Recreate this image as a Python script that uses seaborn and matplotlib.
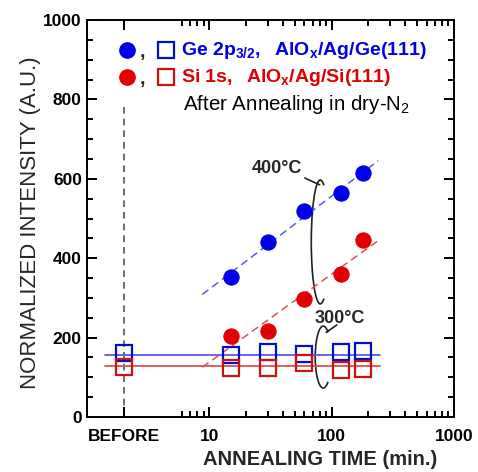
import numpy as np
import pandas as pd
import matplotlib
matplotlib.use("Agg")
import matplotlib.pyplot as plt
import matplotlib.transforms as mtransforms
import seaborn as sns
from matplotlib.patches import Arc
from matplotlib.lines import TICKUP, TICKDOWN, TICKLEFT, TICKRIGHT
from matplotlib.ticker import FixedLocator, NullFormatter

# ---------------- data ----------------
before_x = 2                      # position used for the "BEFORE" column
anneal_time = [15, 30, 60, 120, 180]

ge_400 = [353, 441, 519, 564, 615]          # filled blue circles
si_400 = [205, 217, 297, 360, 446]          # filled red circles

ge_300_before = 161
si_300_before = 127
ge_300 = [156, 164, 159, 164, 166]          # open blue squares
si_300 = [123, 123, 136, 118, 121]          # open red squares

ge_300_level = 157
si_300_level = 128
level_span = [1.4, 250]                     # extent of the 300C level lines
fit_span = [8.8, 240]                       # extent of the 400C fit lines
before_line_top = 790

x_tick_vals = [2, 10, 100, 1000]
x_tick_labels = ["BEFORE", "10", "100", "1000"]
x_minor = [6, 7, 8, 9] + [20, 30, 40, 50, 60, 70, 80, 90] + [200, 300, 400, 500, 600, 700, 800, 900]
y_major = [0, 200, 400, 600, 800, 1000]
y_minor = [50, 100, 150, 250, 300, 350, 450, 500, 550, 650, 700, 750, 850, 900, 950]

BLUE = "#0000e6"
RED = "#e00000"
BLUE_SQ = "#0010c8"
RED_SQ = "#d01010"
BLUE_LINE = "#5a5af0"
RED_LINE = "#e05050"

# ---------------- style ----------------
sns.set_theme(style="ticks", rc={
    "xtick.direction": "in", "ytick.direction": "in",
    "xtick.top": True, "ytick.right": True,
    "xtick.major.size": 7, "ytick.major.size": 7,
    "xtick.minor.size": 4, "ytick.minor.size": 4,
    "xtick.major.width": 1.3, "ytick.major.width": 1.3,
    "xtick.minor.width": 1.2, "ytick.minor.width": 1.2,
    "xtick.color": "black", "ytick.color": "black",
    "axes.edgecolor": "black", "axes.axisbelow": False,
})
plt.rcParams["font.family"] = ["Liberation Sans", "DejaVu Sans"]
plt.rcParams["mathtext.fontset"] = "custom"
plt.rcParams["mathtext.rm"] = "Liberation Sans"
plt.rcParams["mathtext.bf"] = "Liberation Sans:bold"
plt.rcParams["mathtext.it"] = "Liberation Sans:italic"

fig = plt.figure(figsize=(4.78, 4.72), dpi=100)
ax = fig.add_axes([0.1813, 0.1165, 0.7685, 0.8411])

# ---------------- fits ----------------
lx = np.log10(anneal_time)
fx = np.logspace(np.log10(fit_span[0]), np.log10(fit_span[1]), 50)
for vals, col in [(ge_400, BLUE_LINE), (si_400, RED_LINE)]:
    p = np.polyfit(lx, vals, 1)
    sns.lineplot(x=fx, y=np.polyval(p, np.log10(fx)), ax=ax, color=col,
                 lw=1.1, linestyle=(0, (5, 3)), zorder=2)

# level lines
for lev, col in [(ge_300_level, BLUE_LINE), (si_300_level, RED_LINE)]:
    sns.lineplot(x=level_span, y=[lev, lev], ax=ax, color=col, lw=1.3, zorder=2)

# BEFORE dashed line
ax.vlines(before_x, 0, before_line_top, colors="#555555", linestyles=(0, (4, 3)), lw=1.2, zorder=1)

# squares
for vals, b, col in [(ge_300, ge_300_before, BLUE_SQ), (si_300, si_300_before, RED_SQ)]:
    xs = [before_x] + anneal_time
    ys = [b] + vals
    sns.lineplot(x=xs, y=ys, ax=ax, marker="s", linestyle="", markersize=11,
                 markerfacecolor="none", markeredgecolor=col, markeredgewidth=1.6,
                 color=col, estimator=None, zorder=4)

# circles
for vals, col in [(ge_400, BLUE), (si_400, RED)]:
    sns.lineplot(x=anneal_time, y=vals, ax=ax, marker="o", linestyle="", markersize=11,
                 markerfacecolor=col, markeredgecolor=col, color=col,
                 estimator=None, zorder=5)

# ---------------- axes ----------------
ax.set_xscale("log")
ax.set_xlim(1, 1000)
ax.set_ylim(0, 1000)
ax.xaxis.set_major_locator(FixedLocator(x_tick_vals))
ax.set_xticklabels(x_tick_labels)
ax.xaxis.set_minor_locator(FixedLocator(x_minor))
ax.xaxis.set_minor_formatter(NullFormatter())
ax.yaxis.set_major_locator(FixedLocator(y_major))
ax.yaxis.set_minor_locator(FixedLocator(y_minor))

for s in ax.spines.values():
    s.set_linewidth(1.4)
    s.set_color("black")

ax.set_xlabel("ANNEALING TIME (min.)", fontsize=14.5, fontweight="bold")
ax.xaxis.set_label_coords(0.635, -0.083)
ax.set_ylabel("NORMALIZED INTENSITY (A.U.)", fontsize=16)
ax.yaxis.set_label_coords(-0.125, 0.49)

# ---------------- legend-like header ----------------
T = ax.transAxes
ax.plot([0.110], [0.924], "o", transform=T, color=BLUE, markersize=11, clip_on=False)
ax.text(0.153, 0.918, ",", transform=T, fontsize=14, fontweight="bold", va="center", ha="center")
ax.plot([0.216], [0.924], "s", transform=T, markersize=11, markerfacecolor="none",
        markeredgecolor=BLUE_SQ, markeredgewidth=1.6)
ax.text(0.258, 0.924, r"$\mathbf{Ge\ 2p_{3/2},\ \ AlO_x/Ag/Ge(111)}$", transform=T,
        fontsize=14, color=BLUE, va="center", ha="left")

ax.plot([0.110], [0.856], "o", transform=T, color=RED, markersize=11)
ax.text(0.153, 0.850, ",", transform=T, fontsize=14, fontweight="bold", va="center", ha="center")
ax.plot([0.216], [0.856], "s", transform=T, markersize=11, markerfacecolor="none",
        markeredgecolor=RED_SQ, markeredgewidth=1.6)
ax.text(0.258, 0.856, r"$\mathbf{Si\ 1s,\ \ AlO_x/Ag/Si(111)}$", transform=T,
        fontsize=14, color=RED, va="center", ha="left")

ax.text(0.262, 0.786, r"After Annealing in dry-N$_2$", transform=T, fontsize=14.8,
        color="black", va="center", ha="left")

# ---------------- temperature annotations ----------------
ax.text(0.518, 0.627, "400°C", transform=T, fontsize=13, fontweight="bold", ha="center", va="center")
ax.add_patch(Arc((0.636, 0.441), 0.049, 0.312, theta1=86, theta2=274, transform=T,
                 color="#222222", lw=1.2))
ax.plot([0.594, 0.634], [0.602, 0.585], transform=T, color="#222222", lw=1.2)

ax.text(0.690, 0.249, "300°C", transform=T, fontsize=13, fontweight="bold", ha="center", va="center")
ax.add_patch(Arc((0.644, 0.151), 0.0436, 0.156, theta1=78, theta2=282, transform=T,
                 color="#222222", lw=1.2))
ax.plot([0.681, 0.652], [0.232, 0.213], transform=T, color="#222222", lw=1.2)

# ---------------- ticks (applied last) ----------------
ax.tick_params(which="both", direction="in", top=True, right=True, bottom=True, left=True,
               color="black")
ax.tick_params(which="major", length=7, width=1.3)
ax.tick_params(which="minor", length=4, width=1.2)

# reinforce the inward tick marks along every spine at the same tick positions
xb = ax.get_xaxis_transform()   # data x, axes y
yb = ax.get_yaxis_transform()   # axes x, data y
for locs, size in [(x_tick_vals, 7), (x_minor, 4)]:
    ax.plot(locs, [0] * len(locs), transform=xb, linestyle="none", marker=TICKUP,
            markersize=size, markeredgewidth=1.3, color="black", clip_on=False, zorder=6)
    ax.plot(locs, [1] * len(locs), transform=xb, linestyle="none", marker=TICKDOWN,
            markersize=size, markeredgewidth=1.3, color="black", clip_on=False, zorder=6)
for locs, size in [(y_major, 7), (y_minor, 4)]:
    ax.plot([0] * len(locs), locs, transform=yb, linestyle="none", marker=TICKRIGHT,
            markersize=size, markeredgewidth=1.3, color="black", clip_on=False, zorder=6)
    ax.plot([1] * len(locs), locs, transform=yb, linestyle="none", marker=TICKLEFT,
            markersize=size, markeredgewidth=1.3, color="black", clip_on=False, zorder=6)

x_shift = mtransforms.ScaledTranslation(0, -5 / 72, fig.dpi_scale_trans)
for lab in ax.get_xticklabels():
    lab.set_fontsize(12.5)
    lab.set_fontweight("bold")
    lab.set_transform(lab.get_transform() + x_shift)
for lab in ax.get_yticklabels():
    lab.set_fontsize(12.5)
    lab.set_fontweight("bold")

fig.savefig("out.png", dpi=100)
